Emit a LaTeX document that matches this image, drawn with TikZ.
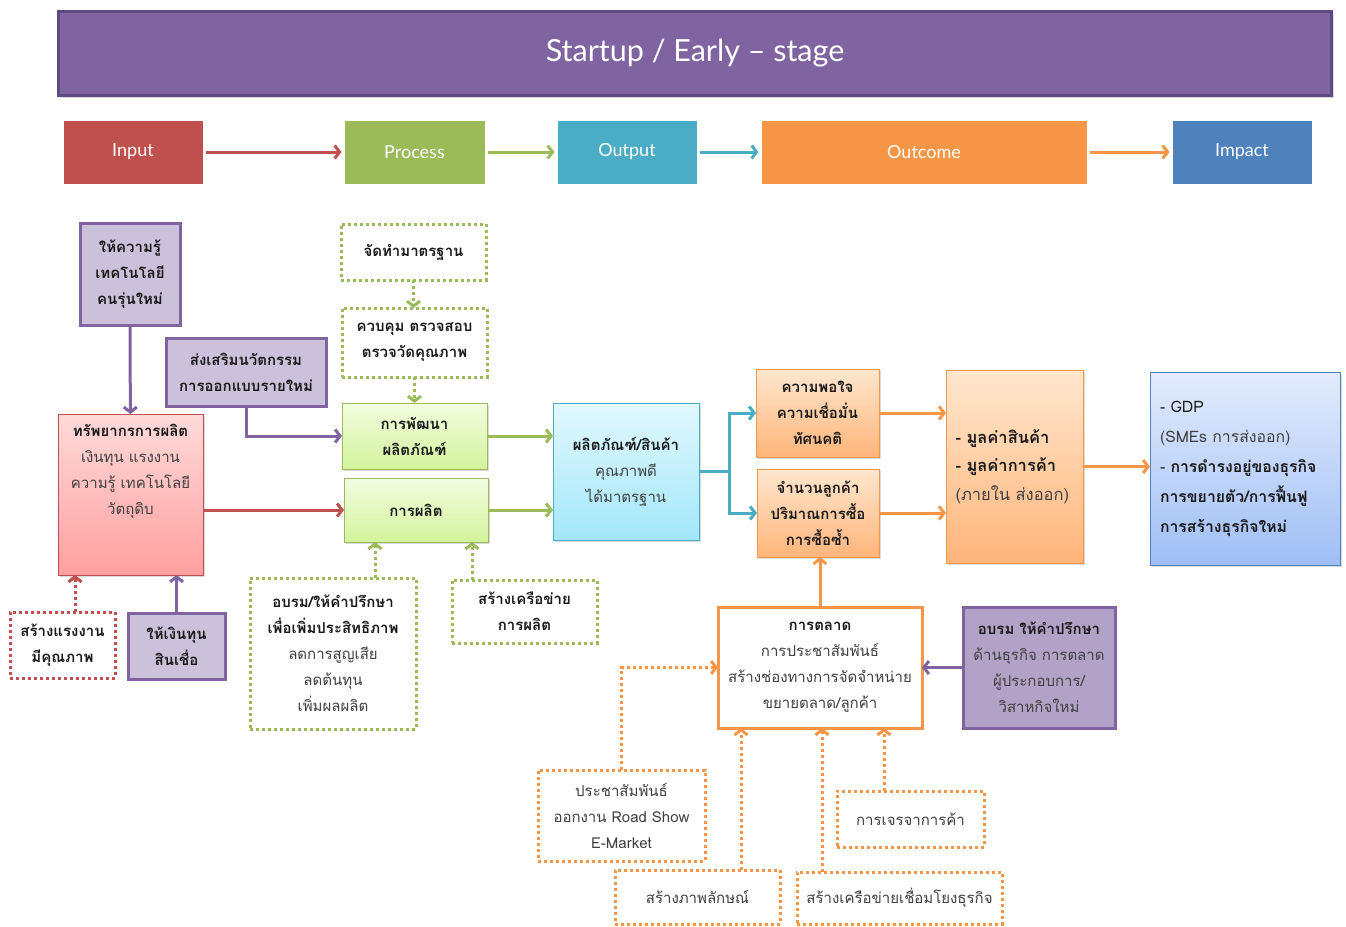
\documentclass[tikz,border=0pt]{standalone}
\usepackage{fontspec}
\usetikzlibrary{arrows.meta,shadows,calc}
\newfontfamily\thai[Script=Thai]{Loma}
\newfontfamily\titlef{Lato}
\definecolor{cred}{HTML}{C0504D}
\definecolor{cgreen}{HTML}{9BBB59}
\definecolor{cblue}{HTML}{4BACC6}
\definecolor{corange}{HTML}{F79646}
\definecolor{cdblue}{HTML}{4F81BD}
\definecolor{cpurple}{HTML}{8064A2}
\definecolor{cdpurple}{HTML}{5E4A82}
\definecolor{lpurple}{HTML}{CCC1DA}
\definecolor{mpurple}{HTML}{B3A2C7}
\definecolor{txt}{HTML}{1A1A1A}
\definecolor{gtxt}{HTML}{404040}
\definecolor{redtop}{HTML}{FFDADA}
\definecolor{redbot}{HTML}{FF9F9F}
\definecolor{grtop}{HTML}{F2FDE0}
\definecolor{grbot}{HTML}{D3F39C}
\definecolor{cytop}{HTML}{E2F8FE}
\definecolor{cybot}{HTML}{A2E7FA}
\definecolor{ortop}{HTML}{FFE7CF}
\definecolor{orbot}{HTML}{FFB57A}
\definecolor{bltop}{HTML}{E3EBFC}
\definecolor{blbot}{HTML}{9FBFF5}
\tikzset{
  base/.style={inner sep=0pt, outer sep=0pt, align=center, text=txt,
    font=\thai\fontsize{15}{26}\selectfont},
  sh/.style={drop shadow={shadow xshift=2pt, shadow yshift=-2pt, opacity=0.3}},
  stagebox/.style={sh, draw=white, line width=3pt, minimum height=66pt, text=white,
    inner sep=0pt, font=\titlef\fontsize{18}{20}\selectfont},
  pbox/.style={base, draw=cpurple, line width=3pt, fill=lpurple},
  dotbox/.style={base, line width=3pt, dash pattern=on 3pt off 3pt, fill=white},
  gradbox/.style={base, sh, line width=1pt},
  conn/.style={line width=3pt, -{Straight Barb[length=5pt,width=13pt]}},
  dconn/.style={conn, dash pattern=on 3pt off 3pt},
}
\newcommand{\gt}[1]{\textcolor{gtxt}{#1}}
\begin{document}
\begin{tikzpicture}[x=1pt,y=-1pt]
\useasboundingbox (0,0) rectangle (1346,926);
% header
\node[sh, fill=cpurple, draw=cdpurple, line width=3pt, minimum width=1273pt, minimum height=84pt,
  inner sep=0pt, text=white, font=\titlef\fontsize{30.5}{32}\selectfont] (hdr) at (695,53.5) {Startup / Early \textendash{} stage};
% stages
\node[stagebox, fill=cred, minimum width=142pt] (input) at (133,152) {Input};
\node[stagebox, fill=cgreen, minimum width=143pt] (process) at (414.5,152) {Process};
\node[stagebox, fill=cblue, minimum width=142pt] (output) at (627,152) {Output};
\node[stagebox, fill=corange, minimum width=328pt] (outcome) at (924,152) {Outcome};
\node[stagebox, fill=cdblue, minimum width=142pt] (impact) at (1242,152) {Impact};
\draw[conn, cred] (input) -- (process);
\draw[conn, cgreen] (process) -- (output);
\draw[conn, cblue] (output) -- (outcome);
\draw[conn, corange] (outcome) -- (impact);
% input column
\node[pbox, minimum width=100pt, minimum height=102pt, font=\thai\bfseries\fontsize{15}{26}\selectfont] (k1) at (130,274) {ให้ความรู้\\เทคโนโลยี\\คนรุ่นใหม่};
\node[pbox, minimum width=160pt, minimum height=68pt, font=\thai\bfseries\fontsize{15}{26}\selectfont] (k2) at (246,372) {ส่งเสริมนวัตกรรม\\การออกแบบรายใหม่};
\node[gradbox, draw=cred, top color=redtop, bottom color=redbot, minimum width=145pt, minimum height=161pt] (res) at (130.5,494.5) {};
\node[base] (rest) at (130.5,471) {\textbf{ทรัพยากรการผลิต}\\\gt{เงินทุน แรงงาน}\\\gt{ความรู้ เทคโนโลยี}\\\gt{วัตถุดิบ}};
\node[dotbox, draw=cred, minimum width=105pt, minimum height=66pt, font=\thai\bfseries\fontsize{15}{26}\selectfont] (lab) at (62.5,645) {สร้างแรงงาน\\มีคุณภาพ};
\node[pbox, minimum width=97pt, minimum height=66pt, font=\thai\bfseries\fontsize{15}{26}\selectfont] (fund) at (176.5,646) {ให้เงินทุน\\สินเชื่อ};
% process column
\node[dotbox, draw=cgreen, minimum width=145pt, minimum height=56pt, font=\thai\bfseries\fontsize{15}{26}\selectfont] (std) at (413.5,252) {จัดทำมาตรฐาน};
\node[dotbox, draw=cgreen, minimum width=145pt, minimum height=69pt, font=\thai\bfseries\fontsize{15}{26}\selectfont] (qc) at (414.5,342.5) {ควบคุม ตรวจสอบ\\ตรวจวัดคุณภาพ};
\node[gradbox, draw=cgreen, top color=grtop, bottom color=grbot, minimum width=145pt, minimum height=66pt, font=\thai\bfseries\fontsize{15}{26}\selectfont] (dev) at (414.5,436) {การพัฒนา\\ผลิตภัณฑ์};
\node[gradbox, draw=cgreen, top color=grtop, bottom color=grbot, minimum width=144pt, minimum height=64pt, font=\thai\bfseries\fontsize{15}{26}\selectfont] (prod) at (416,510) {การผลิต};
\node[dotbox, draw=cgreen, minimum width=166pt, minimum height=151pt] (tr1) at (333,653.5) {\textbf{อบรม/ให้คำปรึกษา}\\\textbf{เพื่อเพิ่มประสิทธิภาพ}\\\gt{ลดการสูญเสีย}\\\gt{ลดต้นทุน}\\\gt{เพิ่มผลผลิต}};
\node[dotbox, draw=cgreen, minimum width=145pt, minimum height=63pt, font=\thai\bfseries\fontsize{15}{26}\selectfont] (net1) at (524.5,611.5) {สร้างเครือข่าย\\การผลิต};
% output
\node[gradbox, draw=cblue, top color=cytop, bottom color=cybot, minimum width=146pt, minimum height=137pt] (goods) at (626,471.5) {\textbf{ผลิตภัณฑ์/สินค้า}\\\gt{คุณภาพดี}\\\gt{ได้มาตรฐาน}};
% outcome
\node[gradbox, draw=corange, top color=ortop, bottom color=orbot, minimum width=123pt, minimum height=88pt, font=\thai\bfseries\fontsize{15}{26}\selectfont] (sat) at (817.5,413) {ความพอใจ\\ความเชื่อมั่น\\ทัศนคติ};
\node[gradbox, draw=corange, top color=ortop, bottom color=orbot, minimum width=122pt, minimum height=88pt, font=\thai\bfseries\fontsize{15}{26}\selectfont] (cust) at (818,513) {จำนวนลูกค้า\\ปริมาณการซื้อ\\การซื้อซ้ำ};
\node[gradbox, draw=corange, top color=ortop, bottom color=orbot, minimum width=137pt, minimum height=193pt, text width=118pt, align=left, font=\thai\fontsize{16.5}{28.5}\selectfont] (val) at (1014.5,466.5) {\textbf{- มูลค่าสินค้า}\\\textbf{- มูลค่าการค้า}\\\gt{(ภายใน ส่งออก)}};
% impact
\node[gradbox, draw=cdblue, top color=bltop, bottom color=blbot, minimum width=190pt, minimum height=193pt, text width=170pt, align=left, font=\thai\fontsize{15.8}{30}\selectfont] (imp) at (1245,468.5) {- GDP\\\gt{(SMEs การส่งออก)}\\- \textbf{การดำรงอยู่ของธุรกิจ}\\\textbf{การขยายตัว/การฟื้นฟู}\\\textbf{การสร้างธุรกิจใหม่}};
% marketing
\node[base, draw=corange, line width=3pt, fill=white, minimum width=204pt, minimum height=121pt] (mkt) at (820,667.5) {\textbf{การตลาด}\\\gt{การประชาสัมพันธ์}\\\gt{สร้างช่องทางการจัดจำหน่าย}\\\gt{ขยายตลาด/ลูกค้า}};
\node[base, draw=cpurple, line width=3pt, fill=mpurple, minimum width=152pt, minimum height=121pt] (tr2) at (1039,667.5) {\textbf{อบรม ให้คำปรึกษา}\\\gt{ด้านธุรกิจ การตลาด}\\\gt{ผู้ประกอบการ/}\\\gt{วิสาหกิจใหม่}};
\node[dotbox, draw=corange, minimum width=167pt, minimum height=91pt] (pr) at (621.5,815.5) {\gt{ประชาสัมพันธ์}\\\gt{ออกงาน Road Show}\\\gt{E-Market}};
\node[dotbox, draw=corange, minimum width=165pt, minimum height=54pt] (img) at (697.5,897) {\gt{สร้างภาพลักษณ์}};
\node[dotbox, draw=corange, minimum width=205pt, minimum height=52pt] (net2) at (899.5,898) {\gt{สร้างเครือข่ายเชื่อมโยงธุรกิจ}};
\node[dotbox, draw=corange, minimum width=147pt, minimum height=56pt] (neg) at (910.5,819) {\gt{การเจรจาการค้า}};
% connectors
\draw[conn, cpurple] (k1) -- (res);
\draw[conn, cpurple] (k2.south) |- (dev.west);
\draw[conn, cred] (res.east |- prod.west) -- (prod.west);
\draw[dconn, cred] ([xshift=12.5pt]lab.north) -- ([xshift=12.5pt]lab.north |- res.south);
\draw[conn, cpurple] (fund.north) -- (fund.north |- res.south);
\draw[dconn, cgreen] (std.south) -- (std.south |- qc.north);
\draw[dconn, cgreen] (qc.south) -- (dev.north);
\draw[conn, cgreen] (dev.east) -- (dev.east -| goods.west);
\draw[conn, cgreen] (prod.east) -- (prod.east -| goods.west);
\draw[dconn, cgreen] ([xshift=42pt]tr1.north) -- ([xshift=42pt]tr1.north |- prod.south);
\draw[dconn, cgreen] ([xshift=-52.5pt]net1.north) -- ([xshift=-52.5pt]net1.north |- prod.south);
\draw[line width=3pt, cblue] (goods.east) -- ++(30,0) coordinate (br);
\draw[conn, cblue] (br) |- (sat.west);
\draw[conn, cblue] (br) |- (cust.west);
\draw[conn, corange] (sat.east) -- (sat.east -| val.west);
\draw[conn, corange] (cust.east) -- (cust.east -| val.west);
\draw[conn, corange] (val.east) -- (val.east -| imp.west);
\draw[conn, corange] (mkt.north) -- (mkt.north |- cust.south);
\draw[conn, cpurple] (tr2.west) -- (mkt.east);
\draw[dconn, corange] (pr.north) |- (mkt.west);
\draw[dconn, corange] ([xshift=43.5pt]img.north) -- ([xshift=43.5pt]img.north |- mkt.south);
\draw[dconn, corange] ([xshift=-77.5pt]net2.north) -- ([xshift=-77.5pt]net2.north |- mkt.south);
\draw[dconn, corange] ([xshift=-26.5pt]neg.north) -- ([xshift=-26.5pt]neg.north |- mkt.south);
\end{tikzpicture}
\end{document}
